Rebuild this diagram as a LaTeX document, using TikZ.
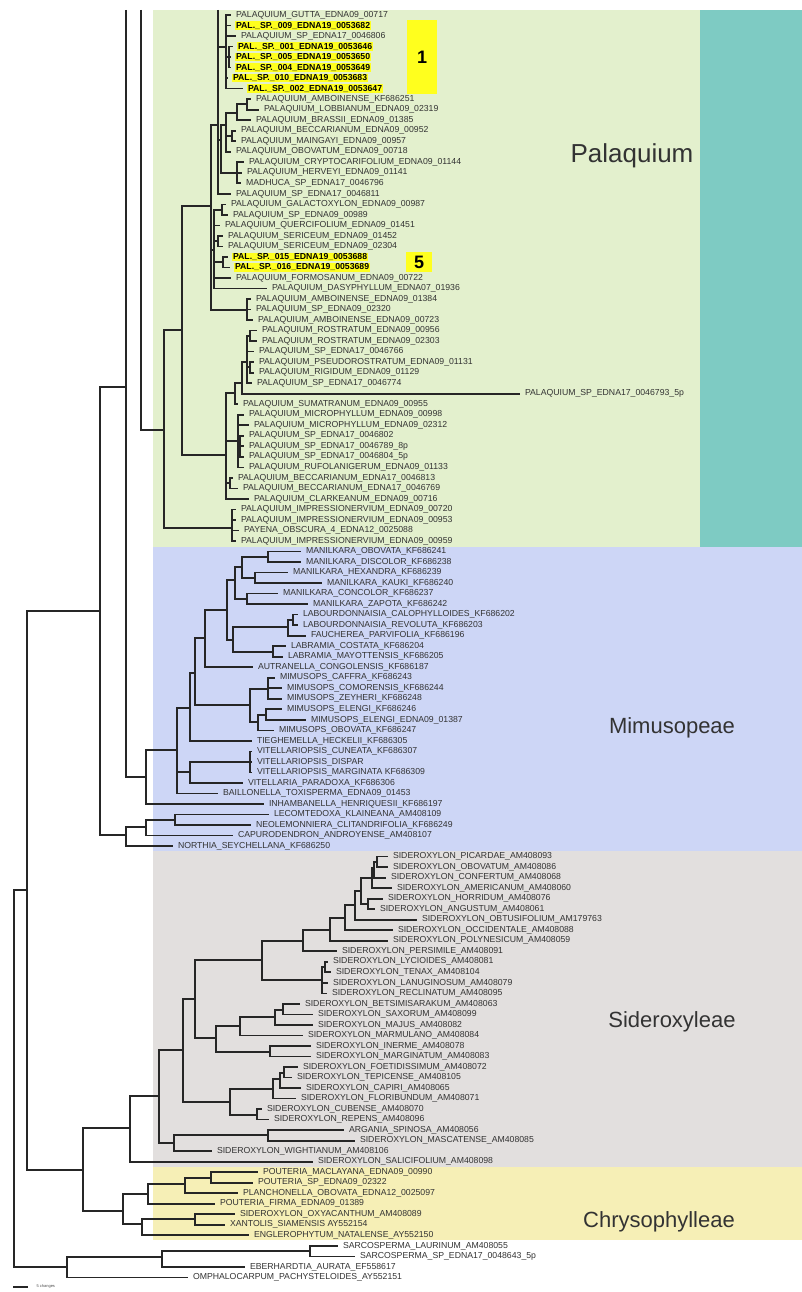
\documentclass[tikz,border=0pt]{standalone}
\usepackage{fontspec}
\setmainfont{Liberation Sans}
\newcommand{\Y}[1]{#1*10.52+4.48}
\definecolor{PalGreen}{HTML}{E3F0CD}
\definecolor{PalTeal}{HTML}{7ECBC3}
\definecolor{MimBlue}{HTML}{CDD6F6}
\definecolor{SidGrey}{HTML}{E2DFDE}
\definecolor{ChrYellow}{HTML}{F6EFB6}
\definecolor{HiYellow}{HTML}{FFFF1E}

\begin{document}
\begin{tikzpicture}[
      x = 1pt, y = -1pt,
      Branch/.style = {draw, line width = 1.7pt, color = black!85},
      Leaf/.style = {anchor = west, font = \fontsize{8.7}{9}\selectfont, text = black!80,
                     inner xsep = 1pt, inner ysep = 0.6pt, outer xsep = 4pt, outer ysep = 0pt},
      HiLeaf/.style = {Leaf, fill = HiYellow, text = black, font = \fontsize{8.7}{9}\selectfont\bfseries},
      Clade/.style = {font = \fontsize{22}{24}\selectfont, text = black!80},
      Tag/.style = {fill = HiYellow, font = \fontsize{18}{18}\selectfont\bfseries}
    ]
    \useasboundingbox (0,0) rectangle (802,1292);

    \fill [PalGreen] (153,10) rectangle (700,547);
    \fill [PalTeal] (700,10) rectangle (802,547);
    \fill [MimBlue] (153,547) rectangle (802,851);
    \fill [SidGrey] (153,851) rectangle (802,1167);
    \fill [ChrYellow] (153,1167) rectangle (802,1240);

    \node at (422,57) [Tag, minimum width = 30pt, minimum height = 74pt](tag1){1};
    \node at (419,262) [Tag, minimum width = 26pt, minimum height = 20pt](tag5){5};

    \node at (632,156) [Clade, font = \fontsize{26}{28}\selectfont](palaquium){Palaquium};
    \node at (672,728) [Clade](mimusopeae){Mimusopeae};
    \node at (672,1022) [Clade](sideroxyleae){Sideroxyleae};
    \node at (659,1222) [Clade](chrysophylleae){Chrysophylleae};

    \node at (231,\Y{1}) [Leaf](pGutta){PALAQUIUM\_GUTTA\_EDNA09\_00717};
    \node at (231,\Y{2}) [HiLeaf](pSp009){PAL.\_SP.\_009\_EDNA19\_0053682};
    \node at (236,\Y{3}) [Leaf](pSp806){PALAQUIUM\_SP\_EDNA17\_0046806};
    \node at (233,\Y{4}) [HiLeaf](pSp001){PAL.\_SP.\_001\_EDNA19\_0053646};
    \node at (231,\Y{5}) [HiLeaf](pSp005){PAL.\_SP.\_005\_EDNA19\_0053650};
    \node at (231,\Y{6}) [HiLeaf](pSp004){PAL.\_SP.\_004\_EDNA19\_0053649};
    \node at (228,\Y{7}) [HiLeaf](pSp010){PAL.\_SP.\_010\_EDNA19\_0053683};
    \node at (243,\Y{8}) [HiLeaf](pSp002){PAL.\_SP.\_002\_EDNA19\_0053647};
    \node at (251,\Y{9}) [Leaf](pAmbKF){PALAQUIUM\_AMBOINENSE\_KF686251};
    \node at (259,\Y{10}) [Leaf](pLobb){PALAQUIUM\_LOBBIANUM\_EDNA09\_02319};
    \node at (251,\Y{11}) [Leaf](pBrass){PALAQUIUM\_BRASSII\_EDNA09\_01385};
    \node at (236,\Y{12}) [Leaf](pBecc952){PALAQUIUM\_BECCARIANUM\_EDNA09\_00952};
    \node at (236,\Y{13}) [Leaf](pMaing){PALAQUIUM\_MAINGAYI\_EDNA09\_00957};
    \node at (231,\Y{14}) [Leaf](pObov){PALAQUIUM\_OBOVATUM\_EDNA09\_00718};
    \node at (244,\Y{15}) [Leaf](pCrypt){PALAQUIUM\_CRYPTOCARIFOLIUM\_EDNA09\_01144};
    \node at (242,\Y{16}) [Leaf](pHerv){PALAQUIUM\_HERVEYI\_EDNA09\_01141};
    \node at (241,\Y{17}) [Leaf](mMadh){MADHUCA\_SP\_EDNA17\_0046796};
    \node at (231,\Y{18}) [Leaf](pSp811){PALAQUIUM\_SP\_EDNA17\_0046811};
    \node at (226,\Y{19}) [Leaf](pGalac){PALAQUIUM\_GALACTOXYLON\_EDNA09\_00987};
    \node at (228,\Y{20}) [Leaf](pSp989){PALAQUIUM\_SP\_EDNA09\_00989};
    \node at (220,\Y{21}) [Leaf](pQuerc){PALAQUIUM\_QUERCIFOLIUM\_EDNA09\_01451};
    \node at (223,\Y{22}) [Leaf](pSer452){PALAQUIUM\_SERICEUM\_EDNA09\_01452};
    \node at (223,\Y{23}) [Leaf](pSer304){PALAQUIUM\_SERICEUM\_EDNA09\_02304};
    \node at (228,\Y{24}) [HiLeaf](pSp015){PAL.\_SP.\_015\_EDNA19\_0053688};
    \node at (230,\Y{25}) [HiLeaf](pSp016){PAL.\_SP.\_016\_EDNA19\_0053689};
    \node at (231,\Y{26}) [Leaf](pForm){PALAQUIUM\_FORMOSANUM\_EDNA09\_00722};
    \node at (267,\Y{27}) [Leaf](pDasy){PALAQUIUM\_DASYPHYLLUM\_EDNA07\_01936};
    \node at (251,\Y{28}) [Leaf](pAmb384){PALAQUIUM\_AMBOINENSE\_EDNA09\_01384};
    \node at (251,\Y{29}) [Leaf](pSp320){PALAQUIUM\_SP\_EDNA09\_02320};
    \node at (253,\Y{30}) [Leaf](pAmb723){PALAQUIUM\_AMBOINENSE\_EDNA09\_00723};
    \node at (257,\Y{31}) [Leaf](pRos956){PALAQUIUM\_ROSTRATUM\_EDNA09\_00956};
    \node at (257,\Y{32}) [Leaf](pRos303){PALAQUIUM\_ROSTRATUM\_EDNA09\_02303};
    \node at (254,\Y{33}) [Leaf](pSp766){PALAQUIUM\_SP\_EDNA17\_0046766};
    \node at (254,\Y{34}) [Leaf](pPseudo){PALAQUIUM\_PSEUDOROSTRATUM\_EDNA09\_01131};
    \node at (254,\Y{35}) [Leaf](pRigid){PALAQUIUM\_RIGIDUM\_EDNA09\_01129};
    \node at (252,\Y{36}) [Leaf](pSp774){PALAQUIUM\_SP\_EDNA17\_0046774};
    \node at (520,\Y{37}) [Leaf](pSp793){PALAQUIUM\_SP\_EDNA17\_0046793\_5p};
    \node at (238,\Y{38}) [Leaf](pSumat){PALAQUIUM\_SUMATRANUM\_EDNA09\_00955};
    \node at (244,\Y{39}) [Leaf](pMic998){PALAQUIUM\_MICROPHYLLUM\_EDNA09\_00998};
    \node at (249,\Y{40}) [Leaf](pMic312){PALAQUIUM\_MICROPHYLLUM\_EDNA09\_02312};
    \node at (244,\Y{41}) [Leaf](pSp802){PALAQUIUM\_SP\_EDNA17\_0046802};
    \node at (244,\Y{42}) [Leaf](pSp789){PALAQUIUM\_SP\_EDNA17\_0046789\_8p};
    \node at (244,\Y{43}) [Leaf](pSp804){PALAQUIUM\_SP\_EDNA17\_0046804\_5p};
    \node at (244,\Y{44}) [Leaf](pRufo){PALAQUIUM\_RUFOLANIGERUM\_EDNA09\_01133};
    \node at (233,\Y{45}) [Leaf](pBecc813){PALAQUIUM\_BECCARIANUM\_EDNA17\_0046813};
    \node at (238,\Y{46}) [Leaf](pBecc769){PALAQUIUM\_BECCARIANUM\_EDNA17\_0046769};
    \node at (249,\Y{47}) [Leaf](pClark){PALAQUIUM\_CLARKEANUM\_EDNA09\_00716};
    \node at (236,\Y{48}) [Leaf](pImp720){PALAQUIUM\_IMPRESSIONERVIUM\_EDNA09\_00720};
    \node at (236,\Y{49}) [Leaf](pImp953){PALAQUIUM\_IMPRESSIONERVIUM\_EDNA09\_00953};
    \node at (239,\Y{50}) [Leaf](pPayena){PAYENA\_OBSCURA\_4\_EDNA12\_0025088};
    \node at (236,\Y{51}) [Leaf](pImp959){PALAQUIUM\_IMPRESSIONERVIUM\_EDNA09\_00959};

    \node at (301,\Y{52}) [Leaf](mObov){MANILKARA\_OBOVATA\_KF686241};
    \node at (301,\Y{53}) [Leaf](mDisc){MANILKARA\_DISCOLOR\_KF686238};
    \node at (288,\Y{54}) [Leaf](mHex){MANILKARA\_HEXANDRA\_KF686239};
    \node at (322,\Y{55}) [Leaf](mKauki){MANILKARA\_KAUKI\_KF686240};
    \node at (278,\Y{56}) [Leaf](mConc){MANILKARA\_CONCOLOR\_KF686237};
    \node at (308,\Y{57}) [Leaf](mZap){MANILKARA\_ZAPOTA\_KF686242};
    \node at (298,\Y{58}) [Leaf](lCalo){LABOURDONNAISIA\_CALOPHYLLOIDES\_KF686202};
    \node at (298,\Y{59}) [Leaf](lRev){LABOURDONNAISIA\_REVOLUTA\_KF686203};
    \node at (306,\Y{60}) [Leaf](fParv){FAUCHEREA\_PARVIFOLIA\_KF686196};
    \node at (286,\Y{61}) [Leaf](lCost){LABRAMIA\_COSTATA\_KF686204};
    \node at (283,\Y{62}) [Leaf](lMay){LABRAMIA\_MAYOTTENSIS\_KF686205};
    \node at (253,\Y{63}) [Leaf](aCong){AUTRANELLA\_CONGOLENSIS\_KF686187};
    \node at (275,\Y{64}) [Leaf](miCaff){MIMUSOPS\_CAFFRA\_KF686243};
    \node at (282,\Y{65}) [Leaf](miComo){MIMUSOPS\_COMORENSIS\_KF686244};
    \node at (282,\Y{66}) [Leaf](miZey){MIMUSOPS\_ZEYHERI\_KF686248};
    \node at (282,\Y{67}) [Leaf](miEl246){MIMUSOPS\_ELENGI\_KF686246};
    \node at (306,\Y{68}) [Leaf](miEl387){MIMUSOPS\_ELENGI\_EDNA09\_01387};
    \node at (274,\Y{69}) [Leaf](miObov){MIMUSOPS\_OBOVATA\_KF686247};
    \node at (252,\Y{70}) [Leaf](tHeck){TIEGHEMELLA\_HECKELII\_KF686305};
    \node at (252,\Y{71}) [Leaf](vCun){VITELLARIOPSIS\_CUNEATA\_KF686307};
    \node at (252,\Y{72}) [Leaf](vDisp){VITELLARIOPSIS\_DISPAR};
    \node at (252,\Y{73}) [Leaf](vMarg){VITELLARIOPSIS\_MARGINATA KF686309};
    \node at (243,\Y{74}) [Leaf](vPara){VITELLARIA\_PARADOXA\_KF686306};
    \node at (218,\Y{75}) [Leaf](bTox){BAILLONELLA\_TOXISPERMA\_EDNA09\_01453};
    \node at (264,\Y{76}) [Leaf](iHenr){INHAMBANELLA\_HENRIQUESII\_KF686197};
    \node at (269,\Y{77}) [Leaf](lKlai){LECOMTEDOXA\_KLAINEANA\_AM408109};
    \node at (251,\Y{78}) [Leaf](nClit){NEOLEMONNIERA\_CLITANDRIFOLIA\_KF686249};
    \node at (233,\Y{79}) [Leaf](cAndr){CAPURODENDRON\_ANDROYENSE\_AM408107};
    \node at (173,\Y{80}) [Leaf](nSey){NORTHIA\_SEYCHELLANA\_KF686250};

    \node at (388,\Y{81}) [Leaf](sPic){SIDEROXYLON\_PICARDAE\_AM408093};
    \node at (388,\Y{82}) [Leaf](sObov){SIDEROXYLON\_OBOVATUM\_AM408086};
    \node at (386,\Y{83}) [Leaf](sConf){SIDEROXYLON\_CONFERTUM\_AM408068};
    \node at (392,\Y{84}) [Leaf](sAmer){SIDEROXYLON\_AMERICANUM\_AM408060};
    \node at (383,\Y{85}) [Leaf](sHorr){SIDEROXYLON\_HORRIDUM\_AM408076};
    \node at (375,\Y{86}) [Leaf](sAng){SIDEROXYLON\_ANGUSTUM\_AM408061};
    \node at (417,\Y{87}) [Leaf](sObtu){SIDEROXYLON\_OBTUSIFOLIUM\_AM179763};
    \node at (393,\Y{88}) [Leaf](sOcc){SIDEROXYLON\_OCCIDENTALE\_AM408088};
    \node at (388,\Y{89}) [Leaf](sPoly){SIDEROXYLON\_POLYNESICUM\_AM408059};
    \node at (337,\Y{90}) [Leaf](sPers){SIDEROXYLON\_PERSIMILE\_AM408091};
    \node at (328,\Y{91}) [Leaf](sLyc){SIDEROXYLON\_LYCIOIDES\_AM408081};
    \node at (331,\Y{92}) [Leaf](sTen){SIDEROXYLON\_TENAX\_AM408104};
    \node at (328,\Y{93}) [Leaf](sLan){SIDEROXYLON\_LANUGINOSUM\_AM408079};
    \node at (327,\Y{94}) [Leaf](sRec){SIDEROXYLON\_RECLINATUM\_AM408095};
    \node at (300,\Y{95}) [Leaf](sBets){SIDEROXYLON\_BETSIMISARAKUM\_AM408063};
    \node at (313,\Y{96}) [Leaf](sSax){SIDEROXYLON\_SAXORUM\_AM408099};
    \node at (313,\Y{97}) [Leaf](sMaj){SIDEROXYLON\_MAJUS\_AM408082};
    \node at (303,\Y{98}) [Leaf](sMarm){SIDEROXYLON\_MARMULANO\_AM408084};
    \node at (311,\Y{99}) [Leaf](sIner){SIDEROXYLON\_INERME\_AM408078};
    \node at (311,\Y{100}) [Leaf](sMarg){SIDEROXYLON\_MARGINATUM\_AM408083};
    \node at (298,\Y{101}) [Leaf](sFoet){SIDEROXYLON\_FOETIDISSIMUM\_AM408072};
    \node at (292,\Y{102}) [Leaf](sTep){SIDEROXYLON\_TEPICENSE\_AM408105};
    \node at (301,\Y{103}) [Leaf](sCap){SIDEROXYLON\_CAPIRI\_AM408065};
    \node at (296,\Y{104}) [Leaf](sFlor){SIDEROXYLON\_FLORIBUNDUM\_AM408071};
    \node at (262,\Y{105}) [Leaf](sCub){SIDEROXYLON\_CUBENSE\_AM408070};
    \node at (269,\Y{106}) [Leaf](sRep){SIDEROXYLON\_REPENS\_AM408096};
    \node at (344,\Y{107}) [Leaf](aSpin){ARGANIA\_SPINOSA\_AM408056};
    \node at (355,\Y{108}) [Leaf](sMasc){SIDEROXYLON\_MASCATENSE\_AM408085};
    \node at (212,\Y{109}) [Leaf](sWigh){SIDEROXYLON\_WIGHTIANUM\_AM408106};
    \node at (313,\Y{110}) [Leaf](sSali){SIDEROXYLON\_SALICIFOLIUM\_AM408098};

    \node at (258,\Y{111}) [Leaf](cMacl){POUTERIA\_MACLAYANA\_EDNA09\_00990};
    \node at (253,\Y{112}) [Leaf](cPsp){POUTERIA\_SP\_EDNA09\_02322};
    \node at (238,\Y{113}) [Leaf](cPlan){PLANCHONELLA\_OBOVATA\_EDNA12\_0025097};
    \node at (215,\Y{114}) [Leaf](cFirm){POUTERIA\_FIRMA\_EDNA09\_01389};
    \node at (235,\Y{115}) [Leaf](cOxy){SIDEROXYLON\_OXYACANTHUM\_AM408089};
    \node at (225,\Y{116}) [Leaf](cXant){XANTOLIS\_SIAMENSIS AY552154};
    \node at (249,\Y{117}) [Leaf](cEngl){ENGLEROPHYTUM\_NATALENSE\_AY552150};
    \node at (338,\Y{118}) [Leaf](oLaur){SARCOSPERMA\_LAURINUM\_AM408055};
    \node at (355,\Y{119}) [Leaf](oSarc){SARCOSPERMA\_SP\_EDNA17\_0048643\_5p};
    \node at (245,\Y{120}) [Leaf](oEber){EBERHARDTIA\_AURATA\_EF558617};
    \node at (188,\Y{121}) [Leaf](oOmph){OMPHALOCARPUM\_PACHYSTELOIDES\_AY552151};

    \coordinate (topA) at (126,10);
    \coordinate (topB) at (141,10);
    \coordinate (topC) at (218,10);
    \coordinate (j126) at (126,387);
    \coordinate (n14) at (14,1078);
    \coordinate (n27) at (27,890);
    \coordinate (n100) at (100,611);
    \coordinate (n164) at (164,430);
    \coordinate (n182) at (182,330);
    \coordinate (pA) at (211,206);
    \coordinate (pB) at (218,125);
    \coordinate (pC) at (226,47);
    \coordinate (pC2) at (229,57);
    \coordinate (pD) at (221,140);
    \coordinate (pE) at (226,125);
    \coordinate (pE1) at (237,113);
    \coordinate (pE3) at (247,104);
    \coordinate (pE2) at (232,136);
    \coordinate (pF) at (237,173);
    \coordinate (pG) at (214,250);
    \coordinate (pG1) at (222,210);
    \coordinate (pG2) at (218,241);
    \coordinate (pG3) at (223,262);
    \coordinate (pH) at (247,310);
    \coordinate (pR) at (226,455);
    \coordinate (pS) at (235,393);
    \coordinate (pT) at (242,383);
    \coordinate (pU) at (247,362);
    \coordinate (pU1) at (250,336);
    \coordinate (pU2) at (250,367);
    \coordinate (pM) at (238,441);
    \coordinate (pM1) at (240,446);
    \coordinate (pBc) at (230,483);
    \coordinate (pI) at (232,528);
    \coordinate (n146) at (146,777);
    \coordinate (n177) at (177,750);
    \coordinate (n190) at (190,708);
    \coordinate (n195) at (195,673);
    \coordinate (n205) at (205,638);
    \coordinate (n227) at (227,610);
    \coordinate (n235) at (235,580);
    \coordinate (n242) at (242,567);
    \coordinate (n268) at (268,557);
    \coordinate (n255) at (255,578);
    \coordinate (n247) at (247,599);
    \coordinate (n233) at (233,640);
    \coordinate (n288) at (288,627);
    \coordinate (n293) at (293,620);
    \coordinate (n273) at (273,652);
    \coordinate (nMi) at (250,705);
    \coordinate (nMi1) at (268,689);
    \coordinate (nMi2) at (258,722);
    \coordinate (nMi3) at (266,715);
    \coordinate (nV) at (190,772);
    \coordinate (nV1) at (250,762);
    \coordinate (n126b) at (126,835);
    \coordinate (n146b) at (146,827);
    \coordinate (n175) at (175,820);
    \coordinate (n83) at (83,1170);
    \coordinate (n130) at (130,1128);
    \coordinate (n159) at (159,1096);
    \coordinate (n174) at (174,1143);
    \coordinate (nArg) at (268,1135);
    \coordinate (n183) at (183,1050);
    \coordinate (n230) at (230,1102);
    \coordinate (n273s) at (273,1089);
    \coordinate (n280) at (280,1079);
    \coordinate (n284) at (284,1073);
    \coordinate (n257) at (257,1115);
    \coordinate (n195s) at (195,999);
    \coordinate (n216) at (216,1038);
    \coordinate (n240) at (240,1026);
    \coordinate (n275) at (275,1017);
    \coordinate (n283) at (283,1010);
    \coordinate (n270) at (270,1052);
    \coordinate (n262) at (262,960);
    \coordinate (n303) at (303,941);
    \coordinate (n330) at (330,930);
    \coordinate (n345) at (345,918);
    \coordinate (n355) at (355,905);
    \coordinate (n361) at (361,891);
    \coordinate (n372) at (372,878);
    \coordinate (n374) at (374,868);
    \coordinate (n377) at (377,862);
    \coordinate (n368) at (368,904);
    \coordinate (n322) at (322,980);
    \coordinate (n325) at (325,967);
    \coordinate (nC) at (123,1211);
    \coordinate (n148) at (148,1194);
    \coordinate (n185) at (185,1184);
    \coordinate (n211c) at (211,1178);
    \coordinate (n142) at (142,1224);
    \coordinate (n195c) at (195,1219);
    \coordinate (n67) at (67,1267);
    \coordinate (n162) at (162,1257);
    \coordinate (n310) at (310,1251);

    \path [Branch] (topA) |- (n146);
    \path [Branch] (topB) |- (n164);
    \path [Branch] (topC) |- (pSp811.west);
    \path [Branch] (n14) |- (n27) (n14) |- (n67);
    \path [Branch] (n27) |- (n100) (n27) |- (n83);
    \path [Branch] (n100) |- (j126) (n100) |- (n126b);
    \path [Branch] (n164) |- (n182) (n164) |- (pI);
    \path [Branch] (n182) |- (pA) (n182) |- (pR);
    \path [Branch] (pA) |- (pB) (pA) |- (pG) (pA) |- (pH);
    \path [Branch] (pB) |- (pC) (pB) |- (pD);
    \path [Branch] (pC) |- (pGutta.west) (pC) |- (pSp009.west) (pC) |- (pSp806.west)
                   (pC) |- (pC2) (pC) |- (pSp010.west) (pC) |- (pSp002.west);
    \path [Branch] (pC2) |- (pSp001.west) (pC2) |- (pSp005.west) (pC2) |- (pSp004.west);
    \path [Branch] (pD) |- (pE) (pD) |- (pF);
    \path [Branch] (pE) |- (pE1) (pE) |- (pE2) (pE) |- (pObov.west);
    \path [Branch] (pE1) |- (pE3) (pE1) |- (pBrass.west);
    \path [Branch] (pE3) |- (pAmbKF.west) (pE3) |- (pLobb.west);
    \path [Branch] (pE2) |- (pBecc952.west) (pE2) |- (pMaing.west);
    \path [Branch] (pF) |- (pCrypt.west) (pF) |- (pHerv.west) (pF) |- (mMadh.west);
    \path [Branch] (pG) |- (pG1) (pG) |- (pQuerc.west) (pG) |- (pG2) (pG) |- (pG3)
                   (pG) |- (pForm.west) (pG) |- (pDasy.west);
    \path [Branch] (pG1) |- (pGalac.west) (pG1) |- (pSp989.west);
    \path [Branch] (pG2) |- (pSer452.west) (pG2) |- (pSer304.west);
    \path [Branch] (pG3) |- (pSp015.west) (pG3) |- (pSp016.west);
    \path [Branch] (pH) |- (pAmb384.west) (pH) |- (pSp320.west) (pH) |- (pAmb723.west);
    \path [Branch] (pR) |- (pS) (pR) |- (pM) (pR) |- (pBc) (pR) |- (pClark.west);
    \path [Branch] (pS) |- (pT) (pS) |- (pSumat.west);
    \path [Branch] (pT) |- (pU) (pT) |- (pSp793.west);
    \path [Branch] (pU) |- (pU1) (pU) |- (pSp766.west) (pU) |- (pU2) (pU) |- (pSp774.west);
    \path [Branch] (pU1) |- (pRos956.west) (pU1) |- (pRos303.west);
    \path [Branch] (pU2) |- (pPseudo.west) (pU2) |- (pRigid.west);
    \path [Branch] (pM) |- (pMic998.west) (pM) |- (pMic312.west) (pM) |- (pM1) (pM) |- (pRufo.west);
    \path [Branch] (pM1) |- (pSp802.west) (pM1) |- (pSp789.west) (pM1) |- (pSp804.west);
    \path [Branch] (pBc) |- (pBecc813.west) (pBc) |- (pBecc769.west);
    \path [Branch] (pI) |- (pImp720.west) (pI) |- (pImp953.west) (pI) |- (pPayena.west)
                   (pI) |- (pImp959.west);

    \path [Branch] (n146) |- (n177) (n146) |- (iHenr.west);
    \path [Branch] (n177) |- (n190) (n177) |- (nV) (n177) |- (bTox.west);
    \path [Branch] (n190) |- (n195) (n190) |- (tHeck.west);
    \path [Branch] (n195) |- (n205) (n195) |- (nMi);
    \path [Branch] (n205) |- (n227) (n205) |- (aCong.west);
    \path [Branch] (n227) |- (n235) (n227) |- (n233);
    \path [Branch] (n235) |- (n242) (n235) |- (n247);
    \path [Branch] (n242) |- (n268) (n242) |- (n255);
    \path [Branch] (n268) |- (mObov.west) (n268) |- (mDisc.west);
    \path [Branch] (n255) |- (mHex.west) (n255) |- (mKauki.west);
    \path [Branch] (n247) |- (mConc.west) (n247) |- (mZap.west);
    \path [Branch] (n233) |- (n288) (n233) |- (n273);
    \path [Branch] (n288) |- (n293) (n288) |- (fParv.west);
    \path [Branch] (n293) |- (lCalo.west) (n293) |- (lRev.west);
    \path [Branch] (n273) |- (lCost.west) (n273) |- (lMay.west);
    \path [Branch] (nMi) |- (nMi1) (nMi) |- (nMi2);
    \path [Branch] (nMi1) |- (miCaff.west) (nMi1) |- (miComo.west) (nMi1) |- (miZey.west);
    \path [Branch] (nMi2) |- (nMi3) (nMi2) |- (miObov.west);
    \path [Branch] (nMi3) |- (miEl246.west) (nMi3) |- (miEl387.west);
    \path [Branch] (nV) |- (nV1) (nV) |- (vPara.west);
    \path [Branch] (nV1) |- (vCun.west) (nV1) |- (vDisp.west) (nV1) |- (vMarg.west);
    \path [Branch] (n126b) |- (n146b) (n126b) |- (nSey.west);
    \path [Branch] (n146b) |- (n175) (n146b) |- (cAndr.west);
    \path [Branch] (n175) |- (lKlai.west) (n175) |- (nClit.west);

    \path [Branch] (n83) |- (n130) (n83) |- (nC);
    \path [Branch] (n130) |- (n159) (n130) |- (sSali.west);
    \path [Branch] (n159) |- (n183) (n159) |- (n174);
    \path [Branch] (n174) |- (nArg) (n174) |- (sWigh.west);
    \path [Branch] (nArg) |- (aSpin.west) (nArg) |- (sMasc.west);
    \path [Branch] (n183) |- (n195s) (n183) |- (n230);
    \path [Branch] (n230) |- (n273s) (n230) |- (n257);
    \path [Branch] (n273s) |- (n280) (n273s) |- (sFlor.west);
    \path [Branch] (n280) |- (n284) (n280) |- (sCap.west);
    \path [Branch] (n284) |- (sFoet.west) (n284) |- (sTep.west);
    \path [Branch] (n257) |- (sCub.west) (n257) |- (sRep.west);
    \path [Branch] (n195s) |- (n262) (n195s) |- (n216);
    \path [Branch] (n216) |- (n240) (n216) |- (n270);
    \path [Branch] (n240) |- (n275) (n240) |- (sMarm.west);
    \path [Branch] (n275) |- (n283) (n275) |- (sMaj.west);
    \path [Branch] (n283) |- (sBets.west) (n283) |- (sSax.west);
    \path [Branch] (n270) |- (sIner.west) (n270) |- (sMarg.west);
    \path [Branch] (n262) |- (n303) (n262) |- (n322);
    \path [Branch] (n303) |- (n330) (n303) |- (sPers.west);
    \path [Branch] (n330) |- (n345) (n330) |- (sPoly.west);
    \path [Branch] (n345) |- (n355) (n345) |- (sOcc.west);
    \path [Branch] (n355) |- (n361) (n355) |- (sObtu.west);
    \path [Branch] (n361) |- (n372) (n361) |- (n368);
    \path [Branch] (n372) |- (n374) (n372) |- (sAmer.west);
    \path [Branch] (n374) |- (n377) (n374) |- (sConf.west);
    \path [Branch] (n377) |- (sPic.west) (n377) |- (sObov.west);
    \path [Branch] (n368) |- (sHorr.west) (n368) |- (sAng.west);
    \path [Branch] (n322) |- (n325) (n322) |- (sLan.west) (n322) |- (sRec.west);
    \path [Branch] (n325) |- (sLyc.west) (n325) |- (sTen.west);

    \path [Branch] (nC) |- (n148) (nC) |- (n142);
    \path [Branch] (n148) |- (n185) (n148) |- (cFirm.west);
    \path [Branch] (n185) |- (n211c) (n185) |- (cPlan.west);
    \path [Branch] (n211c) |- (cMacl.west) (n211c) |- (cPsp.west);
    \path [Branch] (n142) |- (n195c) (n142) |- (cEngl.west);
    \path [Branch] (n195c) |- (cOxy.west) (n195c) |- (cXant.west);
    \path [Branch] (n67) |- (n162) (n67) |- (oOmph.west);
    \path [Branch] (n162) |- (n310) (n162) |- (oEber.west);
    \path [Branch] (n310) |- (oLaur.west) (n310) |- (oSarc.west);

    \coordinate (barL) at (13,1287);
    \coordinate (barR) at (28,1287);
    \path [Branch, line width = 1.2pt] (barL) -- (barR);
    \node at (33,1286) [anchor = west, font = \fontsize{4}{4}\selectfont, text = black!70](barText){5 changes};
  \end{tikzpicture}
\end{document}
